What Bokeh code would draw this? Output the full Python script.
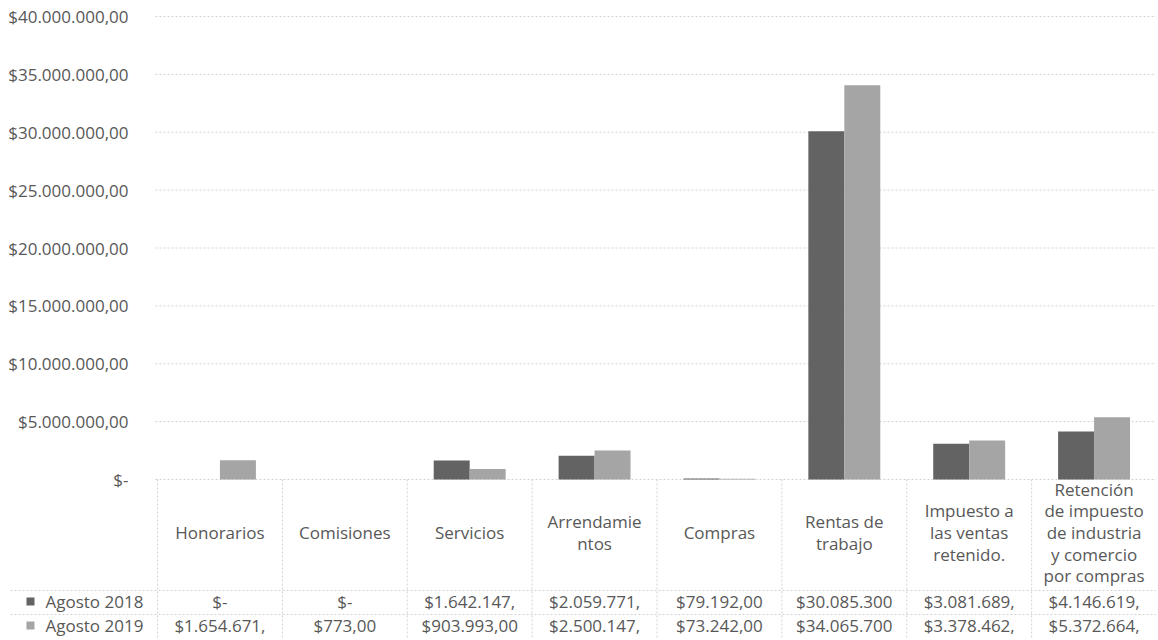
import numpy as np
from bokeh.plotting import figure
from bokeh.models import Range1d, ColumnDataSource
from bokeh.core.properties import value
from bokeh.embed import file_html
from bokeh.resources import INLINE

# ---------------- data ----------------
categories = ["Honorarios", "Comisiones", "Servicios", "Arrendamientos", "Compras",
              "Rentas de trabajo", "Impuesto a las ventas retenido.",
              "Retención de impuesto de industria y comercio por compras"]
category_labels = ["Honorarios", "Comisiones", "Servicios", "Arrendamie\nntos", "Compras",
                   "Rentas de\ntrabajo", "Impuesto a\nlas ventas\nretenido.",
                   "Retención\nde impuesto\nde industria\ny comercio\npor compras"]
series_names = ["Agosto 2018", "Agosto 2019"]
agosto_2018 = [0, 0, 1642147, 2059771, 79192, 30085300, 3081689, 4146619]
agosto_2019 = [1654671, 773, 903993, 2500147, 73242, 34065700, 3378462, 5372664]
table_2018 = ["$-", "$-", "$1.642.147,", "$2.059.771,", "$79.192,00", "$30.085.300",
              "$3.081.689,", "$4.146.619,"]
table_2019 = ["$1.654.671,", "$773,00", "$903.993,00", "$2.500.147,", "$73.242,00",
              "$34.065.700", "$3.378.462,", "$5.372.664,"]
y_ticks = [0, 5000000, 10000000, 15000000, 20000000, 25000000, 30000000, 35000000, 40000000]
y_tick_labels = ["$-", "$5.000.000,00", "$10.000.000,00", "$15.000.000,00", "$20.000.000,00",
                 "$25.000.000,00", "$30.000.000,00", "$35.000.000,00", "$40.000.000,00"]

# ---------------- layout (pixels) ----------------
W, H = 1156, 638
left = 157            # start of the category area
top_px = 16           # pixel of the 40M gridline
zero_px = 479         # pixel of the zero line
y_max = 40000000
n = len(categories)
ppu = (zero_px - top_px) / y_max
cat_px = (W - left) / n

def below(px):
    return -px / ppu

def xpx(px):
    return (px - left) / cat_px

FONT = "Open Sans"
FS = "17px"
TXT = "#585858"
C18, C19 = "#636363", "#a5a5a5"
GRID = "#d2d2d2"

p = figure(width=W, height=H, output_backend="svg", toolbar_location=None,
           x_range=Range1d(xpx(0), n),
           y_range=Range1d(below(H - zero_px), y_max + top_px / ppu),
           min_border_left=0, min_border_top=0, min_border_right=0, min_border_bottom=0)
p.outline_line_color = None
p.axis.visible = False
p.grid.visible = False

# value gridlines and tick labels
p.segment(x0=[xpx(155)] * len(y_ticks), x1=[n] * len(y_ticks), y0=y_ticks, y1=y_ticks,
          line_color=GRID, line_dash="2 2")
tick_src = ColumnDataSource(dict(x=[xpx(128)] * len(y_ticks), y=y_ticks, t=y_tick_labels))
p.text(x="x", y="y", text="t", source=tick_src, text_align="right", text_baseline="middle",
       text_font=value(FONT), text_font_size=FS, text_color=TXT)

# bars
xs = np.arange(n) + 0.5
bw = 0.288
p.vbar(x=xs - bw / 2, top=agosto_2018, bottom=0, width=bw, fill_color=C18, line_color=None)
p.vbar(x=xs + bw / 2, top=agosto_2019, bottom=0, width=bw, fill_color=C19, line_color=None)

# data table grid
bx = np.arange(n + 1)
p.segment(x0=bx, x1=bx, y0=[0] * (n + 1), y1=[below(H - zero_px)] * (n + 1),
          line_color=GRID, line_dash="2 2")
hl = [below(111), below(135)]
p.segment(x0=[xpx(10)] * 2, x1=[n] * 2, y0=hl, y1=hl, line_color=GRID, line_dash="2 2")

# category labels
src = ColumnDataSource(dict(x=xs, y=[below(53)] * n, t=category_labels))
p.text(x="x", y="y", text="t", source=src, text_align="center", text_baseline="middle",
       text_font=value(FONT), text_font_size=FS, text_color=TXT, text_line_height=0.94)

# table rows
row_y = [below(122), below(146)]
for vals, yy in zip((table_2018, table_2019), row_y):
    s = ColumnDataSource(dict(x=xs, y=[yy] * n, t=vals))
    p.text(x="x", y="y", text="t", source=s, text_align="center", text_baseline="middle",
           text_font=value(FONT), text_font_size=FS, text_color=TXT)

# row headers with colour keys
hdr = ColumnDataSource(dict(x=[xpx(45)] * 2, y=row_y, t=series_names))
p.text(x="x", y="y", text="t", source=hdr, text_align="left", text_baseline="middle",
       text_font=value(FONT), text_font_size=FS, text_color=TXT)
p.scatter(x=[xpx(30)] * 2, y=row_y, marker="square", size=8, fill_color=[C18, C19],
          line_color=None)

open("out.html", "w").write(file_html(p, INLINE))
